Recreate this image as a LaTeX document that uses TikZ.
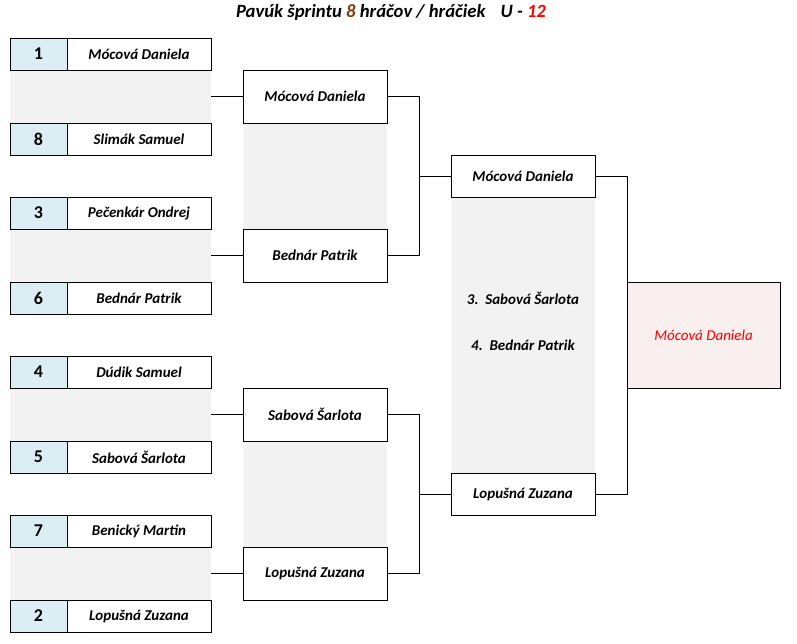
\documentclass[tikz,border=0pt]{standalone}
\usepackage{fontspec}
\setmainfont{Carlito}
\definecolor{seedblue}{HTML}{DAEEF3}
\definecolor{lgray}{HTML}{F2F2F2}
\definecolor{finfill}{HTML}{F8EFEE}
\definecolor{brown8}{HTML}{843C0C}
\begin{document}
\begin{tikzpicture}[x=1pt,y=-1pt,line width=1pt,
  every node/.style={inner sep=0pt,outer sep=0pt},
  seedbox/.style={draw,fill=seedblue,minimum width=57pt,minimum height=32pt,font=\fontsize{18}{20}\selectfont\bfseries},
  namebox/.style={draw,fill=white,minimum width=144pt,minimum height=32pt,font=\fontsize{15}{17}\selectfont\bfseries\itshape},
  graybox/.style={fill=lgray},
  rtwo/.style={draw,fill=white,minimum width=144pt,minimum height=53pt,font=\fontsize{15}{17}\selectfont\bfseries\itshape},
  rthree/.style={draw,fill=white,minimum width=144pt,minimum height=42pt,font=\fontsize{15}{17}\selectfont\bfseries\itshape},
  finbox/.style={draw,fill=finfill,minimum width=153pt,minimum height=106pt,font=\fontsize{15}{17}\selectfont\itshape,text=red},
  midtext/.style={font=\fontsize{15}{17}\selectfont\bfseries\itshape}]
\useasboundingbox (0,0) rectangle (797,643);
% title
\node[font=\fontsize{18.7}{22}\selectfont\bfseries\itshape] (title) at (391,12) {Pavúk šprintu \textcolor{brown8}{8} hráčov / hráčiek\hspace{15pt}U - \textcolor{red}{12}};
% round 1 gray areas
\node[graybox,minimum width=201pt,minimum height=53pt] (g1) at (110.5,96.5) {};
\node[graybox,minimum width=201pt,minimum height=53pt] (g2) at (110.5,255.5) {};
\node[graybox,minimum width=201pt,minimum height=53pt] (g3) at (110.5,414.5) {};
\node[graybox,minimum width=201pt,minimum height=53pt] (g4) at (110.5,573.5) {};
% round 1 seeds and names
\node[seedbox] (s1) at (38.5,54) {1};
\node[namebox] (n1) at (139,54) {Mócová Daniela};
\node[seedbox] (s8) at (38.5,139) {8};
\node[namebox] (n8) at (139,139) {Slimák Samuel};
\node[seedbox] (s3) at (38.5,213) {3};
\node[namebox] (n3) at (139,213) {Pečenkár Ondrej};
\node[seedbox] (s6) at (38.5,298) {6};
\node[namebox] (n6) at (139,298) {Bednár Patrik};
\node[seedbox] (s4) at (38.5,372) {4};
\node[namebox] (n4) at (139,372) {Dúdik Samuel};
\node[seedbox] (s5) at (38.5,457) {5};
\node[namebox] (n5) at (139,457) {Sabová Šarlota};
\node[seedbox] (s7) at (38.5,531) {7};
\node[namebox] (n7) at (139,531) {Benický Martin};
\node[seedbox] (s2) at (38.5,616) {2};
\node[namebox] (n2) at (139,616) {Lopušná Zuzana};
% round 2
\node[graybox,minimum width=144pt,minimum height=106pt] (h1) at (315,176) {};
\node[graybox,minimum width=144pt,minimum height=106pt] (h2) at (315,494) {};
\node[rtwo] (b21) at (315,96.5) {Mócová Daniela};
\node[rtwo] (b22) at (315,255.5) {Bednár Patrik};
\node[rtwo] (b23) at (315,414.5) {Sabová Šarlota};
\node[rtwo] (b24) at (315,573.5) {Lopušná Zuzana};
% round 3
\node[graybox,minimum width=144pt,minimum height=276pt] (h3) at (523,335) {};
\node[rthree] (b31) at (523,176) {Mócová Daniela};
\node[rthree] (b32) at (523,494) {Lopušná Zuzana};
\node[midtext] (third) at (523,298) {3.\ \ Sabová Šarlota};
\node[midtext] (fourth) at (523,345) {4.\ \ Bednár Patrik};
% final
\node[finbox] (fin) at (703.5,335) {Mócová Daniela};
% connectors
\draw (g1.east) -- (b21.west);
\draw (g2.east) -- (b22.west);
\draw (g3.east) -- (b23.west);
\draw (g4.east) -- (b24.west);
\draw (b21.east) -- ++(32,0) |- (b31.west);
\draw (b22.east) -- ++(32,0) |- (b31.west);
\draw (b23.east) -- ++(32,0) |- (b32.west);
\draw (b24.east) -- ++(32,0) |- (b32.west);
\draw (b31.east) -| (fin.north west);
\draw (b32.east) -| (fin.south west);
\end{tikzpicture}
\end{document}
